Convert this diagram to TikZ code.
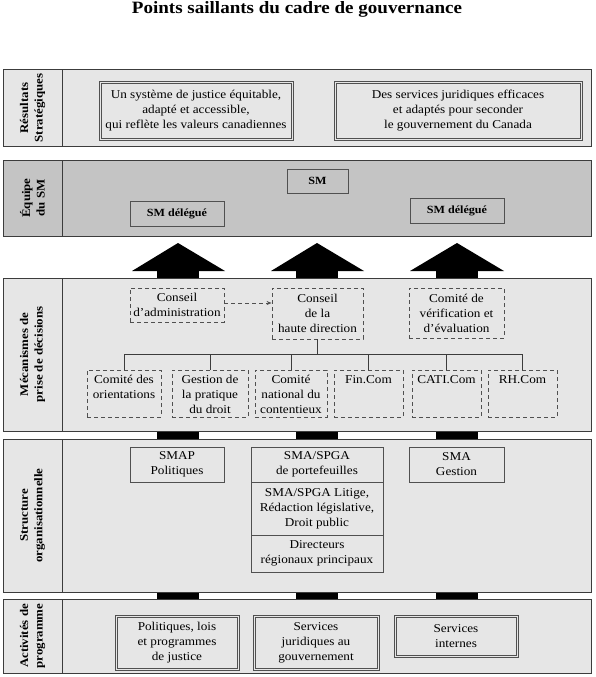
\documentclass[tikz,border=0pt]{standalone}
\usepackage{fontspec}
\setmainfont{Liberation Serif}[FakeStretch=1.1]
\usetikzlibrary{arrows.meta}
\definecolor{bandlight}{HTML}{E6E6E6}
\definecolor{banddark}{HTML}{C4C4C4}
\definecolor{edge}{HTML}{3C3C3C}
\definecolor{boxedge}{HTML}{505050}
\begin{document}
\begin{tikzpicture}[x=1pt,y=-1pt,
  band/.style={draw=edge, line width=1pt},
  lab/.style={rotate=90, align=center, inner sep=0, font=\fontsize{11.7}{14.5}\selectfont\bfseries},
  txt/.style={font=\fontsize{12}{15}\selectfont, align=center, inner sep=0},
  dbox/.style={txt, draw=boxedge, line width=0.8pt, fill=bandlight},
  inner/.style={draw=boxedge, line width=0.8pt},
  smbox/.style={draw=boxedge, line width=0.8pt, fill=banddark, inner sep=0, font=\fontsize{11}{14}\selectfont\bfseries},
  dashbox/.style={txt, draw=boxedge, line width=0.8pt, dash pattern=on 4pt off 3pt},
  sbox/.style={txt, draw=boxedge, line width=0.8pt, fill=bandlight},
  tree/.style={draw=edge, line width=0.8pt},
  bigarrow/.style={fill=black, draw=none}
]
\useasboundingbox (0,0) rectangle (595,677);
\fill[white] (0,0) rectangle (595,677);

\newcommand{\innerframe}[1]{\draw[inner] ([shift={(2.3pt,-2.3pt)}]#1.north west) rectangle ([shift={(-2.3pt,2.3pt)}]#1.south east);}

% title
\node[inner sep=0, font=\fontsize{17.3}{20}\selectfont\bfseries] (title) at (297,9) {Points saillants du cadre de gouvernance};

% black stems (behind bands)
\fill[black] (157,270) rectangle (199,600);
\fill[black] (296,270) rectangle (338,600);
\fill[black] (436,270) rectangle (478,600);

% band 1
\draw[band, fill=bandlight] (3,70) rectangle (591,146);
\draw[band] (62,70) -- (62,146);
\node[lab] (l1) at (32.5,108) {Résultats\\Stratégiques};
\node[dbox, minimum width=194, minimum height=59] (r1) at (196,110.5)
  {Un système de justice équitable,\\adapté et accessible,\\qui reflète les valeurs canadiennes};
\innerframe{r1}
\node[dbox, minimum width=248, minimum height=59] (r2) at (458,110.5)
  {Des services juridiques efficaces\\et adaptés pour seconder\\le gouvernement du Canada};
\innerframe{r2}

% band 2
\draw[band, fill=banddark] (3,160) rectangle (591,236);
\draw[band] (62,160) -- (62,236);
\node[lab] (l2) at (32.5,198) {Équipe\\du SM};
\node[smbox, minimum width=61, minimum height=24] (sm) at (317.5,181) {SM};
\node[smbox, minimum width=94, minimum height=25] (sml) at (177,213.5) {SM délégué};
\node[smbox, minimum width=94, minimum height=25] (smr) at (457,211) {SM délégué};

% big arrows
\fill[bigarrow] (178,243) -- (225,271) -- (132,271) -- cycle;
\fill[bigarrow] (317,243) -- (364,271) -- (271,271) -- cycle;
\fill[bigarrow] (457,243) -- (504,271) -- (410,271) -- cycle;

% band 3
\draw[band, fill=bandlight] (3,278) rectangle (591,431);
\draw[band] (62,278) -- (62,431);
\node[lab] (l3) at (32.5,354.5) {Mécanismes de\\prise de décisions};
\node[dashbox, minimum width=94, minimum height=34] (ca) at (177,305) {Conseil\\d’administration};
\node[dashbox, minimum width=91, minimum height=51] (chd) at (317.5,313.5) {Conseil\\de la\\haute direction};
\node[dashbox, minimum width=95, minimum height=50] (cve) at (456.5,313) {Comité de\\vérification et\\d’évaluation};
\draw[draw=boxedge, line width=0.8pt, dash pattern=on 4pt off 3pt, -{Stealth[length=5pt,width=4pt]}] (ca.east |- 0,303) -- (chd.west |- 0,303);

\newcommand{\topbox}[3]{\parbox[c][#1pt][t]{#2pt}{\centering\rule{0pt}{13.5pt}#3}}
\node[dashbox, inner sep=0] (c1) at (124,393.5) {\topbox{47}{74}{Comité des\\orientations}};
\node[dashbox, inner sep=0] (c2) at (210,393.5) {\topbox{47}{76}{Gestion de\\la pratique\\du droit}};
\node[dashbox, inner sep=0] (c3) at (291,393.5) {\topbox{47}{72}{Comité\\national du\\contentieux}};
\node[dashbox, inner sep=0] (c4) at (368.5,393.5) {\topbox{47}{69}{Fin.Com}};
\node[dashbox, inner sep=0] (c5) at (446.5,393.5) {\topbox{47}{69}{CATI.Com}};
\node[dashbox, inner sep=0] (c6) at (522.5,393.5) {\topbox{47}{69}{RH.Com}};

\coordinate (bus) at (317.5,354);
\draw[tree] (chd.south) -- (bus);
\draw[tree] (c1.north) |- (bus);
\draw[tree] (c2.north) |- (bus);
\draw[tree] (c3.north) |- (bus);
\draw[tree] (c4.north) |- (bus);
\draw[tree] (c5.north) |- (bus);
\draw[tree] (c6.north) |- (bus);

% band 4
\draw[band, fill=bandlight] (3,439) rectangle (591,592);
\draw[band] (62,439) -- (62,592);
\node[lab] (l4) at (32.5,515.5) {Structure\\organisationnelle};
\node[sbox, minimum width=94, minimum height=35] (smap) at (177,464.5) {SMAP\\Politiques};
\node[sbox, minimum width=132, minimum height=35] (spga1) at (317,464.5) {SMA/SPGA\\de portefeuilles};
\node[sbox, minimum width=132, minimum height=53] (spga2) at (317,508.5) {SMA/SPGA Litige,\\Rédaction législative,\\Droit public};
\node[sbox, minimum width=132, minimum height=37] (dir) at (317,553.5) {Directeurs\\régionaux principaux};
\node[sbox, minimum width=95, minimum height=35] (sma) at (456.5,464.5) {SMA\\Gestion};

% band 5
\draw[band, fill=bandlight] (3,599) rectangle (591,673);
\draw[band] (62,599) -- (62,673);
\node[lab] (l5) at (32.5,636) {Activités de\\programme};
\node[dbox, minimum width=124, minimum height=55] (p1) at (177,642.5) {Politiques, lois\\et programmes\\de justice};
\innerframe{p1}
\node[dbox, minimum width=126, minimum height=55] (p2) at (316,642.5) {Services\\juridiques au\\gouvernement};
\innerframe{p2}
\node[dbox, minimum width=124, minimum height=42] (p3) at (456,636) {Services\\internes};
\innerframe{p3}
\end{tikzpicture}
\end{document}
